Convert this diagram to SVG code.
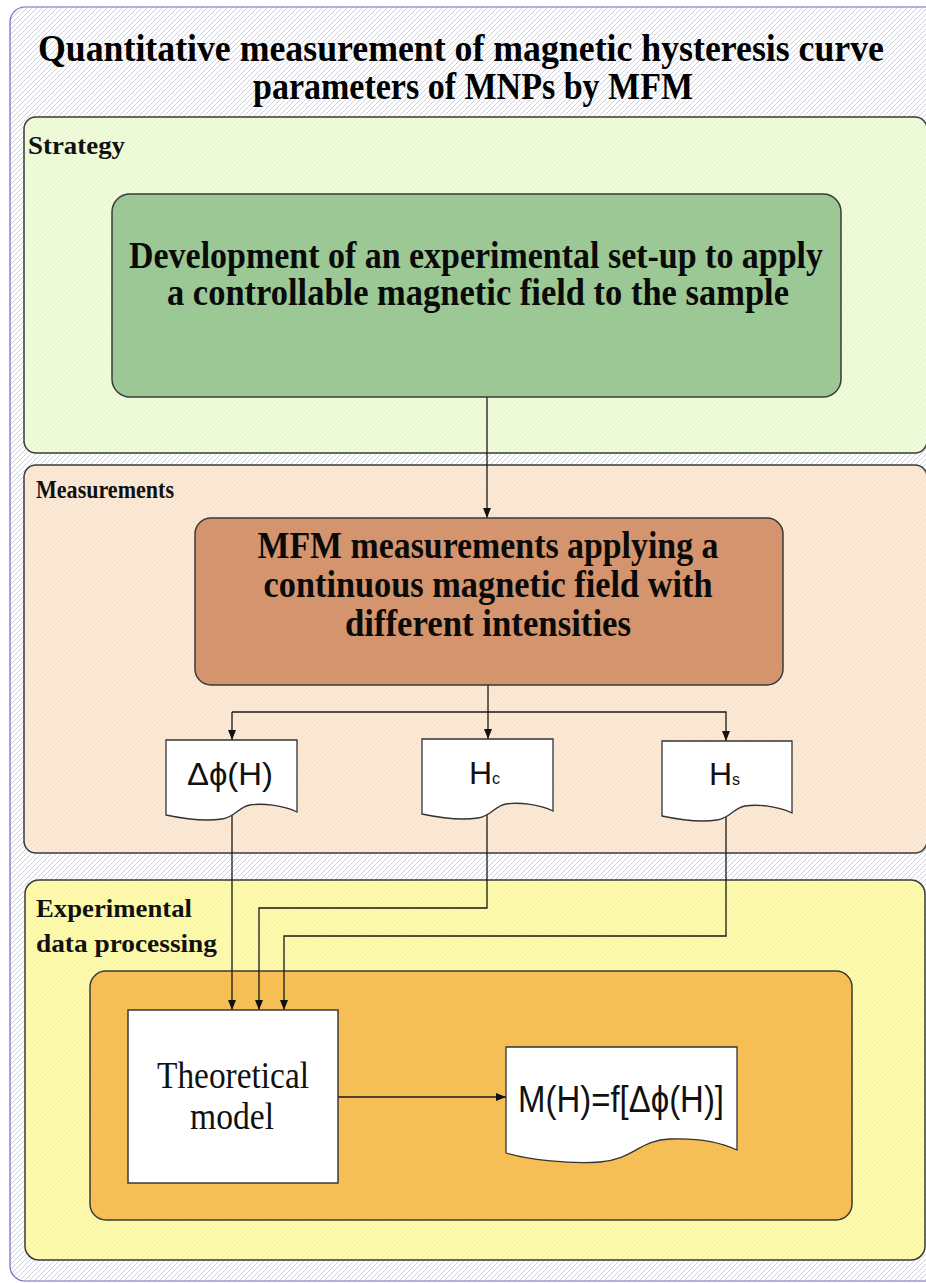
<svg xmlns="http://www.w3.org/2000/svg" width="926" height="1283" viewBox="0 0 926 1283">
  <defs>
    <!-- diagonal hatching for the page background -->
    <pattern id="hatch" width="5" height="5" patternUnits="userSpaceOnUse">
      <rect width="5" height="5" fill="#ffffff"/>
      <path d="M-1,1 L1,-1 M0,5 L5,0 M4,6 L6,4" stroke="#cfd0dc" stroke-width="1"/>
    </pattern>
    <pattern id="hatchGreen" width="5" height="5" patternUnits="userSpaceOnUse">
      <rect width="5" height="5" fill="#effbd9"/>
      <path d="M-1,1 L1,-1 M0,5 L5,0 M4,6 L6,4" stroke="#e6f3cf" stroke-width="1"/>
    </pattern>
    <pattern id="hatchPeach" width="5" height="5" patternUnits="userSpaceOnUse">
      <rect width="5" height="5" fill="#fce9d5"/>
      <path d="M-1,1 L1,-1 M0,5 L5,0 M4,6 L6,4" stroke="#f4dfca" stroke-width="1"/>
    </pattern>
    <pattern id="hatchYellow" width="5" height="5" patternUnits="userSpaceOnUse">
      <rect width="5" height="5" fill="#fefaab"/>
      <path d="M-1,1 L1,-1 M0,5 L5,0 M4,6 L6,4" stroke="#f6f2a2" stroke-width="1"/>
    </pattern>
    <marker id="arrow" markerWidth="10" markerHeight="8" refX="10" refY="4" orient="auto" markerUnits="userSpaceOnUse">
      <path d="M0,0 L10,4 L0,8 Z" fill="#111111"/>
    </marker>
    <style>
      .section { stroke: #3a3a3a; stroke-width: 1.5; }
      .box { stroke: #3a3a3a; stroke-width: 1.5; }
      .doc { fill: #ffffff; stroke: #333333; stroke-width: 1.3; }
      .conn { fill: none; stroke: #1a1a1a; stroke-width: 1.3; marker-end: url(#arrow); }
      .line { fill: none; stroke: #1a1a1a; stroke-width: 1.3; }
      .title { font-family: "Liberation Serif", "Times New Roman", serif; font-weight: bold; font-size: 34px; fill: #000000; text-anchor: middle; }
      .label { font-family: "Liberation Serif", "Times New Roman", serif; font-weight: bold; font-size: 26px; fill: #111111; }
      .boxtext { font-family: "Liberation Serif", "Times New Roman", serif; font-weight: bold; font-size: 37px; fill: #0a0a0a; text-anchor: middle; }
      .serif { font-family: "Liberation Serif", "Times New Roman", serif; font-size: 37px; fill: #111111; text-anchor: middle; }
      .sans { font-family: "Liberation Sans", Arial, sans-serif; fill: #111111; }
    </style>
  </defs>

  <!-- page frame (runs past the right edge of the sheet) -->
  <g id="frame">
    <rect x="10" y="7" width="940" height="1274" rx="15" fill="url(#hatch)" stroke="#6a6ac0" stroke-width="1.2"/>
  </g>

  <!-- heading, drawn slightly tall and narrow -->
  <g id="title">
    <text class="title" transform="translate(461,61) scale(1,1.12)" x="0" y="0" textLength="846" lengthAdjust="spacingAndGlyphs">Quantitative measurement of magnetic hysteresis curve</text>
    <text class="title" transform="translate(473,99) scale(1,1.12)" x="0" y="0" textLength="440" lengthAdjust="spacingAndGlyphs">parameters of MNPs by MFM</text>
  </g>

  <!-- swimlane sections -->
  <g id="strategy">
    <rect class="section" x="24" y="117" width="903" height="336" rx="12" fill="url(#hatchGreen)"/>
    <text class="label" x="28" y="154" textLength="97" lengthAdjust="spacingAndGlyphs">Strategy</text>
  </g>
  <g id="measurements">
    <rect class="section" x="24" y="465" width="903" height="388" rx="12" fill="url(#hatchPeach)"/>
    <text class="label" x="36" y="498" textLength="138" lengthAdjust="spacingAndGlyphs">Measurements</text>
  </g>
  <g id="processing">
    <rect class="section" x="25" y="880" width="900" height="380" rx="14" fill="url(#hatchYellow)"/>
    <text class="label" x="36" y="917" textLength="156" lengthAdjust="spacingAndGlyphs">Experimental</text>
    <text class="label" x="36" y="952" textLength="181" lengthAdjust="spacingAndGlyphs">data processing</text>
  </g>
  <g id="processing-core">
    <rect class="box" x="90" y="971" width="762" height="249" rx="16" fill="#f6bf56"/>
  </g>

  <!-- connectors -->
  <g id="connectors">
    <path class="conn" d="M487,397 V518"/>
    <path class="line" d="M488,685 V712 H232"/>
    <path class="conn" d="M232,712 V740"/>
    <path class="conn" d="M488,712 V739"/>
    <path class="conn" d="M488,712 H726 V741"/>
    <path class="conn" d="M232,815 V1010"/>
    <path class="conn" d="M487,808 V908 H259 V1010"/>
    <path class="conn" d="M726,808 V936 H284 V1010"/>
    <path class="conn" d="M338,1097 H506"/>
  </g>

  <!-- nodes -->
  <g id="setup">
    <rect class="box" x="112" y="194" width="729" height="203" rx="18" fill="#9bc894"/>
    <text class="boxtext" x="476" y="268" textLength="694" lengthAdjust="spacingAndGlyphs">Development of an experimental set-up to apply</text>
    <text class="boxtext" x="478" y="305" textLength="622" lengthAdjust="spacingAndGlyphs">a controllable magnetic field to the sample</text>
  </g>

  <g id="mfm">
    <rect class="box" x="195" y="518" width="588" height="167" rx="16" fill="#d3946e"/>
    <text class="boxtext" x="488" y="558" textLength="461" lengthAdjust="spacingAndGlyphs">MFM measurements applying a</text>
    <text class="boxtext" x="488" y="597" textLength="449" lengthAdjust="spacingAndGlyphs">continuous magnetic field with</text>
    <text class="boxtext" x="488" y="636" textLength="286" lengthAdjust="spacingAndGlyphs">different intensities</text>
  </g>

  <g id="phase-shift">
    <path class="doc" d="M166,740 H297 V812 C283,805 262,803 250,805 C238,807 236,817 222,819 C202,822 180,818 166,815 Z"/>
    <text class="sans" x="230" y="785" font-size="32" text-anchor="middle" textLength="86" lengthAdjust="spacingAndGlyphs">Δϕ(H)</text>
  </g>

  <g id="coercive-field">
    <path class="doc" d="M422,739 H553 V811 C539,804 518,802 506,804 C494,806 492,816 478,818 C458,821 436,817 422,814 Z"/>
    <text class="sans" x="469" y="784" font-size="32">H<tspan font-size="16">c</tspan></text>
  </g>

  <g id="saturation-field">
    <path class="doc" d="M662,741 H792 V813 C778,806 757,804 745,806 C733,808 731,818 717,820 C697,823 676,819 662,816 Z"/>
    <text class="sans" x="709" y="785" font-size="32">H<tspan font-size="16">s</tspan></text>
  </g>

  <g id="theoretical-model">
    <rect class="box" x="128" y="1010" width="210" height="173" fill="#ffffff"/>
    <text class="serif" x="233" y="1088" textLength="152" lengthAdjust="spacingAndGlyphs">Theoretical</text>
    <text class="serif" x="232" y="1129" textLength="84" lengthAdjust="spacingAndGlyphs">model</text>
  </g>

  <g id="magnetization">
    <path class="doc" d="M506,1047 H737 V1150 C720,1142 695,1138 670,1139 C640,1140 632,1160 600,1162 C570,1164 530,1160 506,1153 Z"/>
    <text class="sans" x="518" y="1112" font-size="37" textLength="206" lengthAdjust="spacingAndGlyphs">M(H)=f[Δϕ(H)]</text>
  </g>
</svg>
